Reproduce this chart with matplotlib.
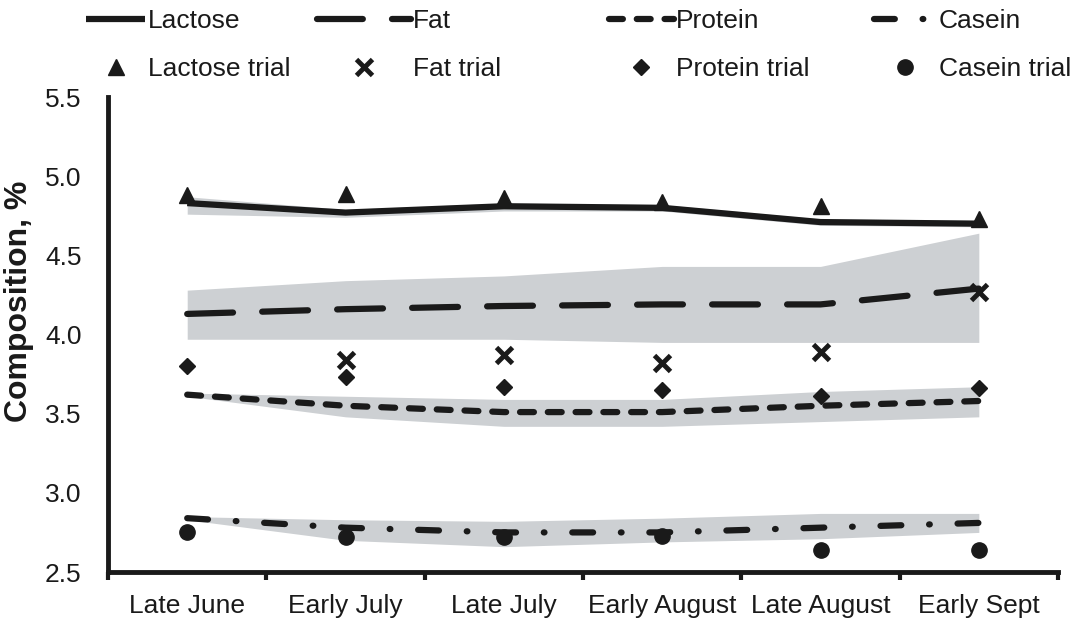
import numpy as np
import matplotlib
matplotlib.use("Agg")
import matplotlib.pyplot as plt

periods = ["Late June", "Early July", "Late July", "Early August", "Late August", "Early Sept"]

# model means with their shaded ranges
lactose = [4.83, 4.77, 4.81, 4.80, 4.71, 4.70]
lactose_hi = [4.87, 4.79, 4.83, 4.82, 4.73, 4.72]
lactose_lo = [4.76, 4.74, 4.78, 4.78, 4.69, 4.68]

fat = [4.13, 4.16, 4.18, 4.19, 4.19, 4.29]
fat_hi = [4.28, 4.34, 4.37, 4.43, 4.43, 4.64]
fat_lo = [3.97, 3.97, 3.97, 3.95, 3.95, 3.95]

protein = [3.62, 3.55, 3.51, 3.51, 3.55, 3.58]
protein_hi = [3.63, 3.61, 3.59, 3.59, 3.64, 3.67]
protein_lo = [3.61, 3.48, 3.42, 3.42, 3.45, 3.48]

casein = [2.84, 2.78, 2.75, 2.75, 2.78, 2.81]
casein_hi = [2.85, 2.83, 2.82, 2.84, 2.87, 2.87]
casein_lo = [2.83, 2.70, 2.66, 2.69, 2.71, 2.75]

# trial measurements
lactose_trial = [4.88, 4.89, 4.86, 4.84, 4.81, 4.73]
fat_trial = [np.nan, 3.84, 3.87, 3.82, 3.89, 4.27]
protein_trial = [3.80, 3.73, 3.67, 3.65, 3.61, 3.66]
casein_trial = [2.75, 2.72, 2.72, 2.73, 2.64, 2.64]

plt.rcParams["font.family"] = ["Liberation Sans", "DejaVu Sans"]
plt.rcParams["lines.scale_dashes"] = False

ink = "#1a1a1a"
band = "#cdd0d3"
lw = 4.5

x = np.arange(len(periods))

fig = plt.figure(figsize=(10.74, 6.21), dpi=100)
ax = fig.add_axes([0.1006, 0.0789, 0.8845, 0.7649])

for hi, lo in [(lactose_hi, lactose_lo), (fat_hi, fat_lo),
               (protein_hi, protein_lo), (casein_hi, casein_lo)]:
    ax.fill_between(x, lo, hi, color=band, lw=0, zorder=1)

styles = {
    "Lactose": (lactose, "-"),
    "Fat": (fat, (0, (33, 21))),
    "Protein": (protein, (0, (10, 10))),
    "Casein": (casein, (0, (15, 20, 0.5, 20))),
}
lines = {}
for name, (vals, ls) in styles.items():
    ln, = ax.plot(x, vals, color=ink, lw=lw, linestyle=ls,
                  dash_capstyle="round", solid_capstyle="butt", zorder=2)
    lines[name] = ln

mk = {}
mk["Lactose"], = ax.plot(x, lactose_trial, ls="none", marker="^", ms=11, color=ink, zorder=3)
mk["Fat"], = ax.plot(x, fat_trial, ls="none", marker="x", ms=11, mew=3.5, color=ink, zorder=3)
mk["Protein"], = ax.plot(x, protein_trial, ls="none", marker="D", ms=8, color=ink, zorder=3)
mk["Casein"], = ax.plot(x, casein_trial, ls="none", marker="o", ms=11, color=ink, zorder=3)

ax.set_xlim(-0.5, 5.5)
ax.set_ylim(2.5, 5.5)

for side in ["top", "right"]:
    ax.spines[side].set_visible(False)
for side in ["left", "bottom"]:
    ax.spines[side].set_linewidth(3.5)
    ax.spines[side].set_color(ink)

ax.set_xticks(np.arange(-0.5, 6.0, 1.0))
ax.set_xticklabels([])
ax.set_xticks(x, minor=True)
ax.set_xticklabels(periods, minor=True)
ax.tick_params(axis="x", which="major", direction="out", length=6, width=3, color=ink)
ax.tick_params(axis="x", which="minor", length=0, pad=16, labelsize=19, labelcolor=ink)

ax.set_yticks(np.arange(2.5, 5.51, 0.5))
ax.set_yticklabels([f"{v:.1f}" for v in np.arange(2.5, 5.51, 0.5)])
ax.tick_params(axis="y", length=0, pad=19, labelsize=19, labelcolor=ink)
ax.set_ylabel("Composition, %", fontsize=23, fontweight="bold", color=ink)
ax.yaxis.set_label_coords(-0.078, 0.57)

# legend: one column per component, line on top, trial marker below
cols = [("Lactose", 86, 2.25), ("Fat", 317, 3.55), ("Protein", 609, 2.45), ("Casein", 874, 2.35)]
for name, px, hl in cols:
    fig.legend([lines[name], mk[name]], [name, name + " trial"],
               loc="upper left", bbox_to_anchor=(px / 1074, 1 - 9 / 621),
               frameon=False, borderpad=0, borderaxespad=0, handlelength=hl,
               handletextpad=0.1, labelspacing=0.9, fontsize=19, labelcolor=ink)

fig.savefig("out.png", dpi=100)
